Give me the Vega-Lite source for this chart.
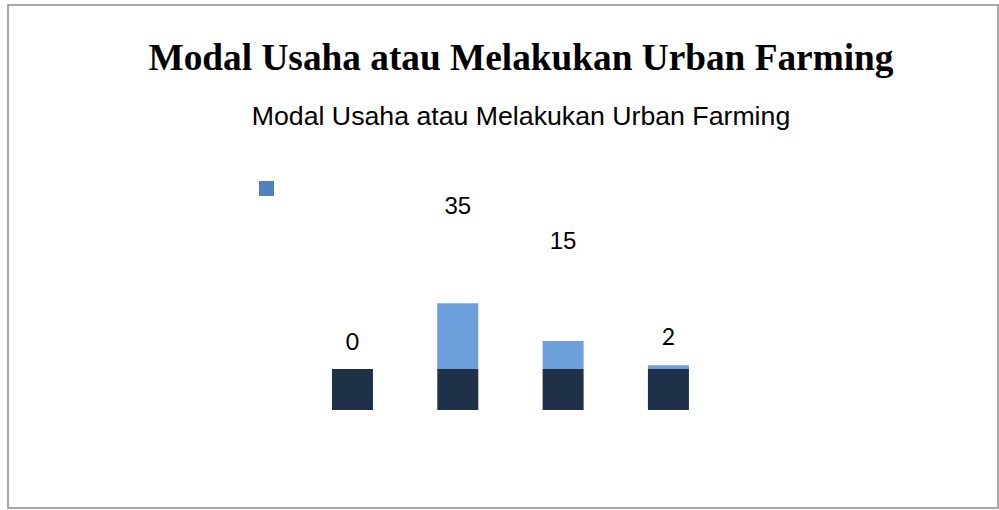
{
  "$schema": "https://vega.github.io/schema/vega-lite/v6.json",
  "autosize": {"type": "fit", "contains": "padding"},
  "width": 999,
  "height": 510,
  "padding": {"top": 5, "left": 8, "right": 1, "bottom": 2},
  "background": "white",
  "config": {
    "view": {"stroke": "#8c8c8c", "strokeWidth": 1.5},
    "axis": {"disable": true}
  },
  "title": {
    "text": "Modal Usaha atau Melakukan Urban Farming",
    "subtitle": "Modal Usaha atau Melakukan Urban Farming",
    "font": "Liberation Serif",
    "fontSize": 37.3,
    "fontWeight": "bold",
    "color": "#000000",
    "subtitleFont": "Liberation Sans",
    "subtitleFontSize": 26.7,
    "subtitleColor": "#000000",
    "subtitlePadding": 26,
    "anchor": "middle",
    "dx": 18,
    "offset": -127
  },
  "data": {
    "values": [
      {"kategori": "Kategori 1", "jumlah": 0, "posisiLabel": 13.8, "huruf": "calibri"},
      {"kategori": "Kategori 2", "jumlah": 35, "posisiLabel": 86.4, "huruf": "arial"},
      {"kategori": "Kategori 3", "jumlah": 15, "posisiLabel": 67.8, "huruf": "arial"},
      {"kategori": "Kategori 4", "jumlah": 2, "posisiLabel": 16.8, "huruf": "calibri"}
    ]
  },
  "encoding": {
    "x": {
      "field": "kategori",
      "type": "nominal",
      "sort": null,
      "axis": null,
      "scale": {"range": [271.3, 733.6], "paddingInner": 0.6107, "paddingOuter": 0.5}
    }
  },
  "layer": [
    {
      "mark": {"type": "bar", "color": "#1f3149"},
      "encoding": {
        "y": {"datum": 0, "type": "quantitative", "scale": {"domain": [-73.9, 193.7], "nice": false, "zero": false}, "axis": null},
        "y2": {"datum": -21.8}
      }
    },
    {
      "mark": {"type": "bar", "color": "#6c9fdc"},
      "encoding": {
        "y": {"field": "jumlah", "type": "quantitative"},
        "y2": {"datum": 0}
      }
    },
    {
      "mark": {"type": "point", "opacity": 0, "filled": true, "shape": "square"},
      "encoding": {
        "y": {"datum": 0, "type": "quantitative"},
        "color": {
          "datum": "Seri 1",
          "type": "nominal",
          "scale": {"range": ["#4f81bd"]},
          "legend": {
            "orient": "none",
            "legendX": 251,
            "legendY": 176,
            "padding": 0,
            "title": null,
            "labelExpr": "''",
            "symbolType": "square",
            "symbolSize": 225,
            "symbolOpacity": 1,
            "symbolStrokeWidth": 0,
            "symbolFillColor": "#4f81bd",
            "encode": {
              "symbols": {
                "update": {
                  "opacity": {"value": 1},
                  "fillOpacity": {"value": 1},
                  "fill": {"value": "#4f81bd"}
                }
              }
            }
          }
        }
      }
    },
    {
      "transform": [{"filter": "datum.huruf == 'arial'"}],
      "mark": {"type": "text", "font": "Liberation Sans", "fontSize": 24, "baseline": "middle", "color": "#000000"},
      "encoding": {
        "y": {"field": "posisiLabel", "type": "quantitative"},
        "text": {"field": "jumlah", "type": "quantitative"}
      }
    },
    {
      "transform": [{"filter": "datum.huruf == 'calibri'"}],
      "mark": {"type": "text", "font": "Lato", "fontSize": 23, "baseline": "middle", "color": "#000000"},
      "encoding": {
        "y": {"field": "posisiLabel", "type": "quantitative"},
        "text": {"field": "jumlah", "type": "quantitative"}
      }
    }
  ]
}
